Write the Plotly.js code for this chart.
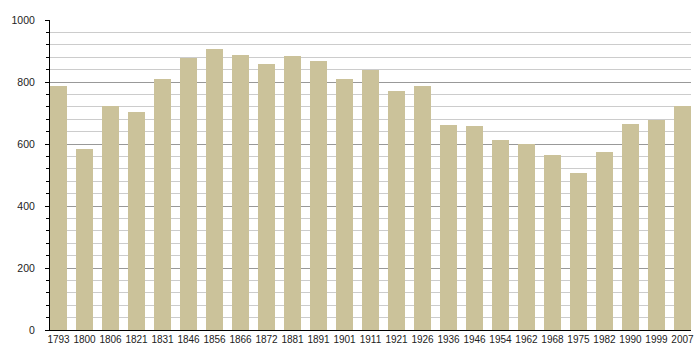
<!DOCTYPE html>
<html>
<head>
<meta charset="utf-8">
<script src="https://cdn.plot.ly/plotly-3.0.1.min.js"></script>
<style>html,body{margin:0;padding:0;background:#fff;}#chart{width:700px;height:360px;}</style>
</head>
<body>
<div id="chart"></div>
<script>
const years = ["1793","1800","1806","1821","1831","1846","1856","1866","1872","1881","1891","1901","1911","1921","1926","1936","1946","1954","1962","1968","1975","1982","1990","1999","2007"];
const population = [788,584,723,704,810,878,907,888,859,885,868,809,838,772,788,662,659,613,601,565,507,575,665,678,723];

const barWidth = 0.655;
Plotly.newPlot('chart', [{
  type: 'bar',
  x: years,
  y: population,
  width: barWidth,
  marker: {color: '#cbc29a', line: {width: 0}},
  hoverinfo: 'x+y'
}], {
  width: 700, height: 360,
  margin: {l: 50, r: 9, t: 20, b: 30},
  paper_bgcolor: '#fff', plot_bgcolor: '#fff',
  font: {family: 'Liberation Sans, Arial, sans-serif', size: 11, color: '#222'},
  showlegend: false,
  bargap: 0,
  xaxis: {
    type: 'category',
    range: [-barWidth/2, years.length - 1 + barWidth/2],
    showline: true, linecolor: '#000', linewidth: 1,
    showgrid: false, ticks: '', tickangle: 0, automargin: false,
    tickfont: {size: 10}, fixedrange: true
  },
  yaxis: {
    range: [0, 1000], dtick: 200, tick0: 0,
    showline: true, linecolor: '#000', linewidth: 1,
    showgrid: true, gridcolor: '#999', gridwidth: 1,
    ticks: 'outside', ticklen: 4, tickcolor: '#000',
    ticklabelstandoff: 8, automargin: false,
    zeroline: false,
    minor: {dtick: 40, showgrid: true, gridcolor: '#ccc', gridwidth: 1, ticks: 'outside', ticklen: 3, tickcolor: '#000'},
    tickfont: {size: 10.5}, fixedrange: true
  }
}, {displayModeBar: false, staticPlot: true});
</script>
</body>
</html>
